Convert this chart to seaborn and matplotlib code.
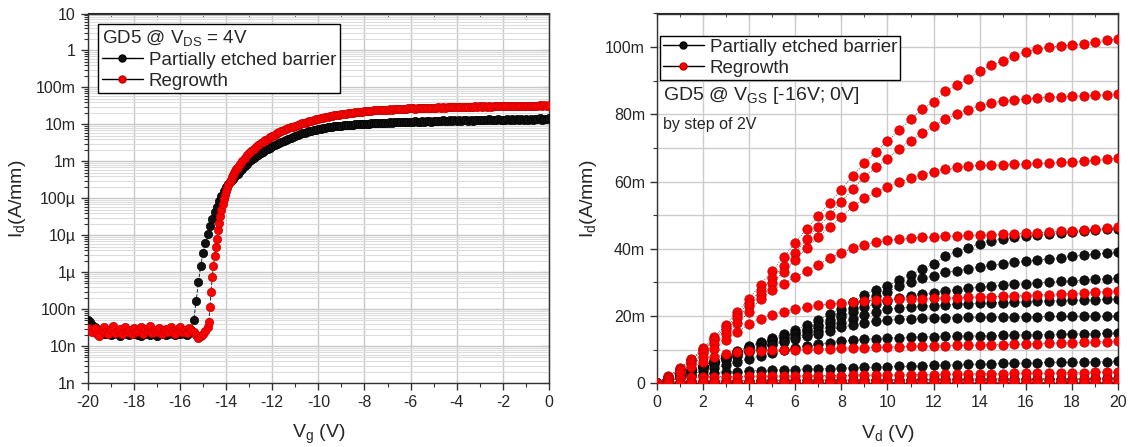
import numpy as np
import pandas as pd
import matplotlib
matplotlib.use('Agg')
import matplotlib.pyplot as plt
from matplotlib.ticker import EngFormatter, LogLocator, MultipleLocator, NullFormatter
from matplotlib.lines import Line2D
import seaborn as sns

sns.set_style('ticks')
plt.rcParams['font.family'] = ['Liberation Sans', 'DejaVu Sans']
plt.rcParams['mathtext.default'] = 'regular'
plt.rcParams['axes.unicode_minus'] = False

# ---------------- transfer curve data (Vg sweep, 0.1 V step) ----------------
vg = np.round(np.linspace(-20, 0, 201), 2)

# partially etched barrier
black_off_nA = [52, 45, 38, 33, 29, 26,
                24, 22, 21, 23, 20, 22, 24, 21, 19, 22,
                23, 21, 20, 22, 24, 21, 20, 19, 22, 21,
                23, 20, 22, 21, 19, 21, 24, 22, 20, 21,
                23, 22, 20, 21, 22, 24, 21, 20, 23, 28]
black_rise_uA = [0.051, 0.166, 0.54, 1.5, 3.4, 6.3, 11, 18, 28, 42, 60, 84,
                 115, 155, 200, 240, 290, 340, 400, 470, 550, 640, 740, 850]
black_on_mA = [1.0, 1.1, 1.22, 1.36, 1.5, 1.65, 1.82, 2.0, 2.17, 2.37,
               2.58, 2.78, 2.98, 3.2, 3.42, 3.66, 3.9, 4.15, 4.4, 4.68,
               4.95, 5.2, 5.45, 5.7, 5.95, 6.2, 6.45, 6.7, 6.95, 7.2,
               7.45, 7.7, 7.9, 8.1, 8.3, 8.5, 8.7, 8.85, 9.0, 9.15,
               9.3, 9.45, 9.6, 9.7, 9.85, 9.95, 10.1, 10.2, 10.3, 10.4,
               10.5, 10.6, 10.5, 10.8, 10.7, 10.9, 11.0, 10.8, 11.1, 11.2,
               11.0, 11.3, 11.2, 11.4, 11.3, 11.5, 11.6, 11.4, 11.7, 11.6,
               11.8,
               11.9, 12.3, 11.7, 12.0, 12.4, 11.8, 12.2, 12.6, 12.0, 12.3,
               12.7, 12.1, 12.5, 12.9, 12.2, 12.6, 13.0, 12.4, 12.8, 12.3,
               13.1, 12.6, 12.9, 13.4, 12.7, 13.0, 12.5, 13.3, 12.9, 13.6,
               13.0, 13.3, 12.8, 13.7, 13.2, 13.5, 12.9, 13.8, 13.3, 13.6,
               13.1, 14.0, 13.4, 13.7, 13.2, 14.1, 13.5, 13.9, 13.3, 14.2,
               13.6, 14.0, 13.4, 14.3, 13.8, 14.5, 13.6, 14.2, 13.9, 14.6]

# regrowth
red_off_nA = [32, 28, 25, 31, 22, 19, 27, 33, 24, 21,
              29, 35, 23, 26, 30, 22, 34, 25, 28, 21,
              31, 24, 27, 33, 22, 29, 26, 35, 23, 28,
              25, 32, 21, 27, 30, 24, 33, 26, 22, 29,
              34, 25, 28, 23, 31, 27, 24, 20, 17, 19,
              22, 26, 33]
red_rise_uA = [0.117, 0.75, 2.8, 8, 22, 50, 95, 155, 235, 320, 420, 550,
               700, 850, 1000, 1200, 1450]
red_on_mA = [1.7, 1.95, 2.2, 2.5, 2.8, 3.1, 3.45, 3.8, 4.15, 4.5,
             4.9, 5.3, 5.7, 6.1, 6.55, 7.0, 7.4, 7.85, 8.3, 8.75,
             9.2, 9.7, 10.2, 10.7, 11.2, 11.7, 12.2, 12.7, 13.2, 13.7,
             14.2, 14.7, 15.2, 15.7, 16.2, 16.6, 17.1, 17.5, 18.0, 18.4,
             18.8, 19.2, 19.6, 20.0, 20.4, 20.8, 21.2, 21.6, 22.0, 22.3,
             22.7, 23.0, 23.4, 23.2, 23.9, 24.2, 23.9, 24.6, 24.9, 24.6,
             25.3, 25.5, 25.2, 25.9, 26.1, 25.8, 26.5, 26.6, 26.3, 27.0,
             27.2,
             27.2, 26.8, 27.5, 27.9, 27.3, 28.1, 27.6, 28.4, 28.0, 28.6,
             28.2, 28.9, 28.4, 29.1, 28.7, 29.3, 28.9, 29.6, 29.1, 29.8,
             29.3, 30.0, 29.5, 30.2, 29.7, 30.4, 29.9, 30.6, 30.0, 30.8,
             30.1, 30.9, 30.3, 31.1, 30.4, 31.2, 30.6, 31.4, 30.7, 31.5,
             30.9, 31.7, 31.0, 31.8, 31.1, 32.0, 31.3, 32.1, 31.4, 32.3,
             31.5, 32.4, 31.6, 32.5, 31.8, 32.7, 31.9, 32.8, 32.0, 33.0]
# extra regrowth points read in the steep part
vg_red_fine = [-14.75, -14.65, -14.55, -14.45, -14.35, -14.25, -14.15,
               -14.05, -13.95, -13.85, -13.75, -13.65, -13.55]
id_red_fine_uA = [0.045, 0.3, 1.5, 4.8, 14, 34, 70, 122, 195, 275, 370, 485, 620]

# ---------------- output curves (Vd sweep, Vgs -16..0 V by 2 V) ----------------
vd = np.linspace(0, 20, 41)
vgs_steps = [0, -2, -4, -6, -8, -10, -12, -14, -16]

red_mA = [
    [0, 2.1, 4.6, 7.3, 10.4, 13.9, 17.4, 21.2, 25.2, 29.3, 33.4, 37.6, 41.8, 46.0, 49.8, 53.6, 57.6, 61.8, 65.6, 68.9,
     72.0, 75.3, 78.5, 81.5, 83.8, 86.8, 88.6, 90.5, 93.0, 94.6, 95.9, 97.4, 98.6, 99.3, 99.9, 100.4, 100.6, 101.0, 101.5, 102.0, 102.4],
    [0, 2.0, 4.4, 7.0, 10.0, 13.3, 16.6, 20.3, 24.0, 27.6, 31.2, 35.0, 38.8, 42.8, 46.6, 50.0, 54.0, 57.8, 61.4, 64.2,
     66.8, 69.8, 72.2, 74.6, 76.4, 78.6, 80.0, 81.3, 82.5, 83.3, 84.0, 84.3, 84.6, 84.9, 85.1, 85.2, 85.4, 85.5, 85.7, 85.9, 86.2],
    [0, 1.9, 4.2, 6.8, 9.8, 12.9, 16.0, 19.5, 23.0, 26.4, 29.8, 33.2, 36.6, 40.3, 43.6, 46.6, 49.5, 52.6, 55.0, 56.8,
     58.4, 59.8, 61.0, 62.0, 63.0, 63.7, 64.2, 64.6, 64.8, 64.9, 65.0, 65.1, 65.2, 65.4, 65.5, 65.7, 65.9, 66.1, 66.3, 66.6, 67.0],
    [0, 1.8, 3.9, 6.3, 8.9, 11.7, 14.6, 17.8, 21.2, 25.0, 27.8, 29.6, 31.6, 33.4, 35.3, 37.2, 38.8, 40.2, 41.2, 41.9,
     42.5, 42.9, 43.2, 43.4, 43.6, 43.8, 43.9, 44.0, 44.1, 44.2, 44.3, 44.4, 44.6, 44.8, 45.0, 45.2, 45.4, 45.7, 45.9, 46.2, 46.5],
    [0, 1.6, 3.6, 5.6, 7.8, 10.2, 12.8, 15.4, 17.6, 19.2, 20.4, 21.3, 22.1, 22.7, 23.2, 23.6, 24.0, 24.3, 24.5, 24.7,
     24.9, 25.0, 25.1, 25.2, 25.3, 25.4, 25.5, 25.6, 25.7, 25.8, 25.9, 26.0, 26.1, 26.3, 26.4, 26.6, 26.7, 26.9, 27.1, 27.3, 27.5],
    [0, 1.4, 3.0, 4.7, 6.4, 7.8, 8.7, 9.2, 9.5, 9.7, 9.8, 9.9, 10.0, 10.1, 10.2, 10.3, 10.4, 10.5, 10.6, 10.7,
     10.8, 10.9, 11.0, 11.0, 11.1, 11.2, 11.3, 11.3, 11.4, 11.5, 11.5, 11.6, 11.7, 11.8, 11.9, 12.0, 12.1, 12.2, 12.3, 12.4, 12.6],
    [0, 0.9, 1.5, 1.8, 1.9, 2.0, 2.0, 2.0, 2.1, 2.1, 2.1, 2.2, 2.2, 2.2, 2.3, 2.3, 2.3, 2.4, 2.4, 2.4,
     2.5, 2.5, 2.6, 2.6, 2.6, 2.7, 2.7, 2.8, 2.8, 2.9, 2.9, 3.0, 3.0, 3.0, 3.1, 3.1, 3.2, 3.2, 3.3, 3.3, 3.4],
    [0, 0.3, 0.5, 0.6, 0.6, 0.6, 0.7, 0.7, 0.7, 0.7, 0.7, 0.8, 0.8, 0.8, 0.8, 0.8, 0.8, 0.9, 0.9, 0.9,
     0.9, 0.9, 0.9, 0.9, 1.0, 1.0, 1.0, 1.0, 1.0, 1.0, 1.0, 1.1, 1.1, 1.1, 1.1, 1.1, 1.1, 1.2, 1.2, 1.2, 1.2],
    [0, 0.05, 0.1, 0.1, 0.1, 0.1, 0.1, 0.1, 0.1, 0.1, 0.1, 0.1, 0.1, 0.1, 0.1, 0.1, 0.1, 0.1, 0.1, 0.1,
     0.15, 0.15, 0.15, 0.15, 0.15, 0.15, 0.15, 0.15, 0.15, 0.15, 0.15, 0.15, 0.15, 0.15, 0.15, 0.2, 0.2, 0.2, 0.2, 0.2, 0.2],
]

black_mA = [
    [0, 1.5, 2.8, 4.0, 5.2, 6.6, 8.0, 9.6, 11.0, 12.2, 13.4, 14.6, 15.8, 17.2, 18.8, 20.5, 22.2, 24.3, 26.3, 27.8,
     29.0, 30.6, 32.2, 34.0, 35.5, 37.8, 39.0, 40.3, 41.5, 42.4, 43.0, 43.4, 43.7, 44.0, 44.4, 44.7, 45.0, 45.3, 45.5, 45.8, 46.0],
    [0, 1.5, 2.8, 4.0, 5.2, 6.5, 7.9, 9.4, 10.8, 11.9, 13.0, 14.0, 15.0, 16.2, 17.4, 18.8, 20.6, 22.5, 24.4, 25.9,
     27.2, 28.8, 30.2, 31.2, 32.0, 33.0, 33.5, 34.0, 34.6, 35.1, 35.6, 36.0, 36.3, 36.6, 37.0, 37.4, 37.8, 38.1, 38.4, 38.7, 39.0],
    [0, 1.4, 2.7, 3.9, 5.1, 6.4, 7.8, 9.2, 10.5, 11.6, 12.6, 13.6, 14.6, 15.6, 16.7, 18.0, 19.6, 21.2, 22.6, 23.7,
     24.6, 25.3, 25.9, 26.5, 27.0, 27.5, 27.9, 28.3, 28.6, 28.9, 29.2, 29.4, 29.6, 29.9, 30.1, 30.3, 30.5, 30.7, 30.9, 31.1, 31.3],
    [0, 1.3, 2.5, 3.6, 4.7, 5.9, 7.1, 8.4, 9.6, 10.7, 11.7, 12.7, 13.7, 14.6, 15.6, 16.6, 17.8, 19.0, 20.2, 21.2,
     22.0, 22.4, 22.7, 22.9, 23.1, 23.3, 23.5, 23.7, 23.8, 23.9, 24.0, 24.1, 24.2, 24.4, 24.5, 24.6, 24.7, 24.8, 24.9, 25.0, 25.1],
    [0, 1.2, 2.3, 3.4, 4.5, 5.6, 6.8, 8.0, 9.2, 10.3, 11.3, 12.2, 13.1, 14.0, 14.8, 15.7, 16.6, 17.4, 18.0, 18.5,
     18.8, 19.0, 19.2, 19.3, 19.4, 19.5, 19.5, 19.6, 19.6, 19.7, 19.7, 19.8, 19.8, 19.8, 19.9, 19.9, 19.9, 20.0, 20.0, 20.0, 20.1],
    [0, 0.9, 1.8, 2.7, 3.6, 4.5, 5.4, 6.3, 7.3, 8.2, 9.0, 9.8, 10.5, 11.1, 11.6, 12.1, 12.5, 12.8, 13.1, 13.3,
     13.5, 13.6, 13.7, 13.8, 13.9, 14.0, 14.0, 14.1, 14.1, 14.2, 14.3, 14.3, 14.4, 14.5, 14.5, 14.6, 14.7, 14.7, 14.8, 14.9, 15.0],
    [0, 0.8, 1.5, 2.1, 2.6, 3.0, 3.3, 3.5, 3.7, 3.8, 3.9, 4.0, 4.1, 4.2, 4.3, 4.4, 4.5, 4.6, 4.7, 4.8,
     4.9, 5.0, 5.1, 5.2, 5.3, 5.4, 5.5, 5.6, 5.7, 5.8, 5.9, 6.0, 6.0, 6.1, 6.2, 6.2, 6.3, 6.3, 6.4, 6.4, 6.5],
    [0, 0.3, 0.5, 0.6, 0.7, 0.7, 0.8, 0.8, 0.8, 0.9, 0.9, 0.9, 0.9, 1.0, 1.0, 1.0, 1.0, 1.0, 1.1, 1.1,
     1.1, 1.1, 1.1, 1.2, 1.2, 1.2, 1.2, 1.2, 1.3, 1.3, 1.3, 1.3, 1.3, 1.4, 1.4, 1.4, 1.4, 1.4, 1.5, 1.5, 1.5],
    [0, 0.1, 0.1, 0.1, 0.1, 0.1, 0.1, 0.1, 0.1, 0.1, 0.1, 0.1, 0.1, 0.1, 0.1, 0.1, 0.1, 0.1, 0.1, 0.1,
     0.2, 0.2, 0.2, 0.2, 0.2, 0.2, 0.2, 0.2, 0.2, 0.2, 0.2, 0.2, 0.2, 0.2, 0.2, 0.3, 0.3, 0.3, 0.3, 0.3, 0.3],
]

labels = ['Partially etched barrier', 'Regrowth']
colors = {'Partially etched barrier': '#111111', 'Regrowth': '#ff0000'}
edges = {'Partially etched barrier': '#000000', 'Regrowth': '#c00000'}
txt = '#262626'

# ---------------- tables ----------------
id_black = np.concatenate([np.array(black_off_nA) * 1e-9,
                           np.array(black_rise_uA) * 1e-6,
                           np.array(black_on_mA) * 1e-3])
id_red = np.concatenate([np.array(red_off_nA) * 1e-9,
                         np.array(red_rise_uA) * 1e-6,
                         np.array(red_on_mA) * 1e-3])
df_b = pd.DataFrame({'vg': vg, 'id': id_black, 'sample': labels[0]})
df_r = pd.DataFrame({'vg': np.concatenate([vg, vg_red_fine]),
                     'id': np.concatenate([id_red, np.array(id_red_fine_uA) * 1e-6]),
                     'sample': labels[1]}).sort_values('vg')

rows = []
for name, curves in [(labels[0], black_mA), (labels[1], red_mA)]:
    for vgs, cur in zip(vgs_steps, curves):
        rows.append(pd.DataFrame({'vd': vd, 'id': np.array(cur) * 1e-3,
                                  'sample': name, 'curve': f'{name} {vgs}'}))
df_out = pd.concat(rows, ignore_index=True)

# ---------------- figure ----------------
fig = plt.figure(figsize=(11.28, 4.47), dpi=100)
W, H = 1128, 447
ax1 = fig.add_axes([87.7 / W, (H - 383.3) / H, 461.3 / W, 369.8 / H])
ax2 = fig.add_axes([656.7 / W, (H - 383.3) / H, 461.5 / W, 369.8 / H])

# left: transfer
ax1.set_yscale('log')
for d in [df_b, df_r]:
    name = d['sample'].iloc[0]
    sns.lineplot(data=d, x='vg', y='id', ax=ax1, color='#222222', lw=0.7,
                 linestyle='--', sort=False, estimator=None, zorder=2)
    sns.scatterplot(data=d, x='vg', y='id', ax=ax1, color=colors[name],
                    edgecolor=edges[name], linewidth=0.5, s=36, zorder=3)
ax1.set_xlim(-20, 0)
ax1.set_ylim(1e-9, 10)
ax1.xaxis.set_major_locator(MultipleLocator(2))
ax1.xaxis.set_minor_locator(MultipleLocator(1))
ax1.yaxis.set_major_locator(LogLocator(base=10, numticks=20))
ax1.yaxis.set_minor_locator(LogLocator(base=10, subs=np.arange(2, 10), numticks=20))
ax1.yaxis.set_minor_formatter(NullFormatter())
ax1.yaxis.set_major_formatter(EngFormatter(places=0, sep=''))
ax1.grid(True, which='major', color='#c8c8c8', lw=1.0)
ax1.grid(True, which='minor', axis='y', color='#dddddd', lw=0.8)
ax1.set_xlabel('V$_g$ (V)', fontsize=14, color=txt, labelpad=9)
ax1.set_ylabel('I$_d$(A/mm)', fontsize=14, color=txt, labelpad=6)

# right: output
for name in labels:
    d = df_out[df_out['sample'] == name]
    sns.lineplot(data=d, x='vd', y='id', units='curve', estimator=None, ax=ax2,
                 color='#333333', lw=0.6, linestyle=':', sort=False, zorder=2)
    sns.scatterplot(data=d, x='vd', y='id', ax=ax2, color=colors[name],
                    edgecolor=edges[name], linewidth=0.5, s=46, zorder=3)
ax2.set_xlim(0, 20)
ax2.set_ylim(0, 0.11)
ax2.xaxis.set_major_locator(MultipleLocator(2))
ax2.xaxis.set_minor_locator(MultipleLocator(1))
ax2.yaxis.set_major_locator(MultipleLocator(0.02))
ax2.yaxis.set_minor_locator(MultipleLocator(0.01))
ax2.yaxis.set_major_formatter(EngFormatter(places=0, sep=''))
ax2.grid(True, which='major', color='#cccccc', lw=1.0)
ax2.grid(True, which='minor', axis='y', color='#cccccc', lw=1.0)
ax2.set_xlabel('V$_d$ (V)', fontsize=14, color=txt, labelpad=9)
ax2.set_ylabel('I$_d$(A/mm)', fontsize=14, color=txt, labelpad=4)

for ax in [ax1, ax2]:
    ax.set_axisbelow(True)
    ax.tick_params(which='both', direction='out', labelsize=11.5, labelcolor=txt, color='#333333')
    ax.tick_params(which='major', length=5, width=1)
    ax.tick_params(which='minor', length=3, width=0.8)
    for sp in ax.spines.values():
        sp.set_color('#333333')
        sp.set_linewidth(1.0)
    top = ax.secondary_xaxis('top')
    top.xaxis.set_major_locator(MultipleLocator(2))
    top.xaxis.set_minor_locator(MultipleLocator(1))
    top.tick_params(which='both', direction='in', labeltop=False, color='#333333')
    top.tick_params(which='major', length=5)
    top.tick_params(which='minor', length=3)
    right = ax.secondary_yaxis('right')
    if ax is ax1:
        right.yaxis.set_major_locator(LogLocator(base=10, numticks=20))
        right.yaxis.set_minor_locator(LogLocator(base=10, subs=np.arange(2, 10), numticks=20))
    else:
        right.yaxis.set_major_locator(MultipleLocator(0.02))
        right.yaxis.set_minor_locator(MultipleLocator(0.01))
    right.yaxis.set_minor_formatter(NullFormatter())
    right.tick_params(which='both', direction='in', labelright=False, color='#333333')
    right.tick_params(which='major', length=5)
    right.tick_params(which='minor', length=3)
    if ax.get_legend() is not None:
        ax.get_legend().remove()

# legends
def handles():
    return [Line2D([], [], color='black', lw=1, marker='o', markersize=5,
                   markerfacecolor=colors[n], markeredgecolor=edges[n]) for n in labels]

leg1 = ax1.legend(handles(), labels, title='GD5 @ V$_{DS}$ = 4V', loc='upper left',
                  bbox_to_anchor=(98 / W, 1 - 24 / H), bbox_transform=fig.transFigure,
                  fontsize=13.5, title_fontsize=13.5, frameon=True, fancybox=False,
                  edgecolor='black', framealpha=1, borderpad=0.2, labelspacing=0.2,
                  handlelength=2.2, handletextpad=0.3, borderaxespad=0, alignment='left')
leg1.get_frame().set_linewidth(1.0)
leg2 = ax2.legend(handles(), labels, loc='upper left',
                  bbox_to_anchor=(660 / W, 1 - 36 / H), bbox_transform=fig.transFigure,
                  fontsize=13.5, frameon=True, fancybox=False,
                  edgecolor='black', framealpha=1, borderpad=0.15, labelspacing=0.2,
                  handlelength=2.2, handletextpad=0.3, borderaxespad=0)
leg2.get_frame().set_linewidth(1.0)

fig.text(663 / W, 1 - 96 / H, 'GD5 @ V$_{GS}$ [-16V; 0V]', fontsize=14, color=txt, va='center', ha='left')
fig.text(663 / W, 1 - 124 / H, 'by step of 2V', fontsize=11.5, color=txt, va='center', ha='left')

fig.savefig('out.png', dpi=100)
